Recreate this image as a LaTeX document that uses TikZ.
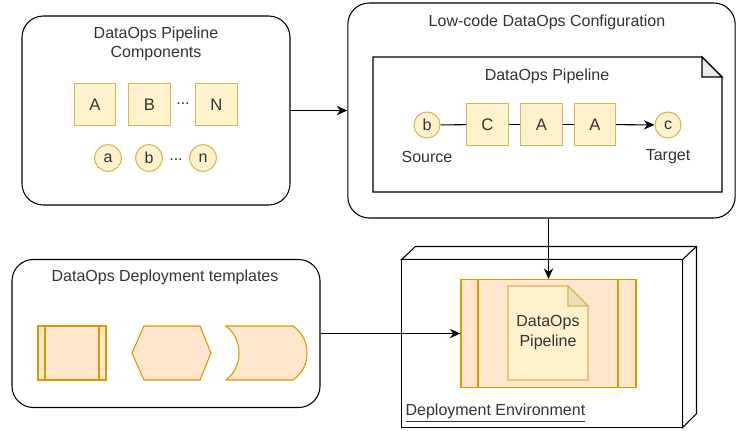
\documentclass[tikz,border=0pt]{standalone}
\usepackage{fontspec}
\setmainfont{Liberation Sans}
\usetikzlibrary{arrows.meta, positioning, shapes}
\definecolor{txt}{HTML}{333333}
\definecolor{yfill}{HTML}{FFF2CC}
\definecolor{ydraw}{HTML}{D6B656}
\definecolor{ofill}{HTML}{FFE6CC}
\definecolor{odraw}{HTML}{D79B00}
\definecolor{yfold}{HTML}{EDE0B4}
\definecolor{gfold}{HTML}{EBEBEB}
\tikzset{
>={Stealth[length=8pt,width=7pt]},
group/.style={draw=black, line width=0.8pt, rounded corners=16pt, fill=white},
caption/.style={text=txt, font=\fontsize{12}{14}\selectfont, align=center, inner sep=1pt},
comp/.style={draw=ydraw, fill=yfill, line width=0.8pt, minimum width=31pt, minimum height=31pt, inner sep=0pt, text=txt, font=\fontsize{12.5}{14}\selectfont},
port/.style={circle, draw=ydraw, fill=yfill, line width=0.8pt, minimum size=20pt, inner sep=0pt, text=txt, font=\fontsize{12}{14}\selectfont},
tmpl/.style={draw=odraw, fill=ofill, line width=0.8pt},
flow/.style={draw=black, line width=0.8pt},
}

\begin{document}
\begin{tikzpicture}[x=0.75pt, y=-0.75pt]
    \useasboundingbox (0,0) rectangle (738,430);
    % pipeline components
    \node[group, minimum width=201pt, minimum height=141.75pt] (parts) at (156,110.5) {};
    \node[caption] (partsT) at (156,44) {DataOps Pipeline\\Components};
    \node[comp] (pA) at (95,104.5) {A};
    \node[comp] (pB) at (149.5,104.5) {B};
    \node[comp] (pN) at (216.5,104.5) {N};
    \node[caption] (pdots) at (183,104) {...};
    \node[port] (pa) at (108,158) {a};
    \node[port] (pb) at (149,158) {b};
    \node[port] (pn) at (203,158) {n};
    \node[caption] (sdots) at (176,160) {...};

    % low-code configuration
    \node[group, minimum width=290.5pt, minimum height=161.25pt] (config) at (541.5,110.5) {};
    \node[caption] (configT) at (547,22) {Low-code DataOps Configuration};
    \draw[line width=0.8pt, fill=white] (373,57) -- (702,57) -- (722,77) -- (722,192) -- (373,192) -- cycle;
    \draw[line width=0.8pt, fill=gfold] (702,57) -- (702,77) -- (722,77) -- cycle;
    \node[caption] (pipeT) at (547,76) {DataOps Pipeline};
    \node[port, minimum size=19.5pt] (src) at (427,125) {b};
    \node[comp] (cC) at (487.5,124.5) {C};
    \node[comp] (cA1) at (541.5,124.5) {A};
    \node[comp] (cA2) at (595,124.5) {A};
    \node[port, minimum size=19.5pt] (tgt) at (668,125) {c};
    \node[caption] (srcT) at (427,157) {Source};
    \node[caption] (tgtT) at (668,157) {Target};
    \draw[flow] (src) -- (cC);
    \draw[flow] (cC) -- (cA1);
    \draw[flow] (cA1) -- (cA2);
    \draw[flow, ->] (cA2) -- (tgt);

    % deployment templates
    \node[group, minimum width=231pt, minimum height=111pt] (tmpls) at (166,333.5) {};
    \node[caption] (tmplsT) at (165,277) {DataOps Deployment templates};
    \draw[tmpl] (38,326) rectangle (106,380);
    \draw[draw=odraw, line width=0.8pt] (45,326) -- (45,380) (99,326) -- (99,380);
    \draw[tmpl] (132,353) -- (144,326) -- (200,326) -- (211,353) -- (200,380) -- (144,380) -- cycle;
    \draw[tmpl] (226,326) -- (293,326) .. controls (303,333) and (307,343) .. (307,353)
        .. controls (307,363) and (303,373) .. (293,380) -- (226,380)
        .. controls (235,373) and (239,363) .. (239,353)
        .. controls (239,343) and (235,333) .. (226,326) -- cycle;

    % deployment environment
    \draw[line width=0.8pt, fill=white] (401.5,259.5) -- (415.5,246.5) -- (696.5,246.5) -- (696.5,413.5) -- (682.5,427.5) -- (682.5,259.5) -- cycle;
    \draw[line width=0.8pt] (682.5,259.5) -- (696.5,246.5);
    \node[draw, line width=0.8pt, fill=white, minimum width=210.75pt, minimum height=126pt] (env) at (542,343.5) {};
    \node[caption, anchor=west] (envT) at (404,413) {\underline{Deployment Environment}};
    \node[tmpl, minimum width=131.25pt, minimum height=81pt] (proc) at (548.5,333.5) {};
    \draw[draw=odraw, line width=0.8pt] (478,279.5) -- (478,387.5) (618,279.5) -- (618,387.5);
    \draw[draw=ydraw, fill=yfill, line width=0.8pt] (508,286) -- (568,286) -- (588,306) -- (588,380) -- (508,380) -- cycle;
    \draw[draw=ydraw, fill=yfold, line width=0.8pt] (568,286) -- (568,306) -- (588,306) -- cycle;
    \node[caption, font=\fontsize{12}{15}\selectfont] (depT) at (548,333) {DataOps\\Pipeline};

    % connectors
    \draw[flow, ->] (parts) -- (config);
    \draw[flow, ->] (config.south -| proc.north) -- (proc.north);
    \draw[flow, ->] (tmpls) -- (proc);
\end{tikzpicture}
\end{document}
